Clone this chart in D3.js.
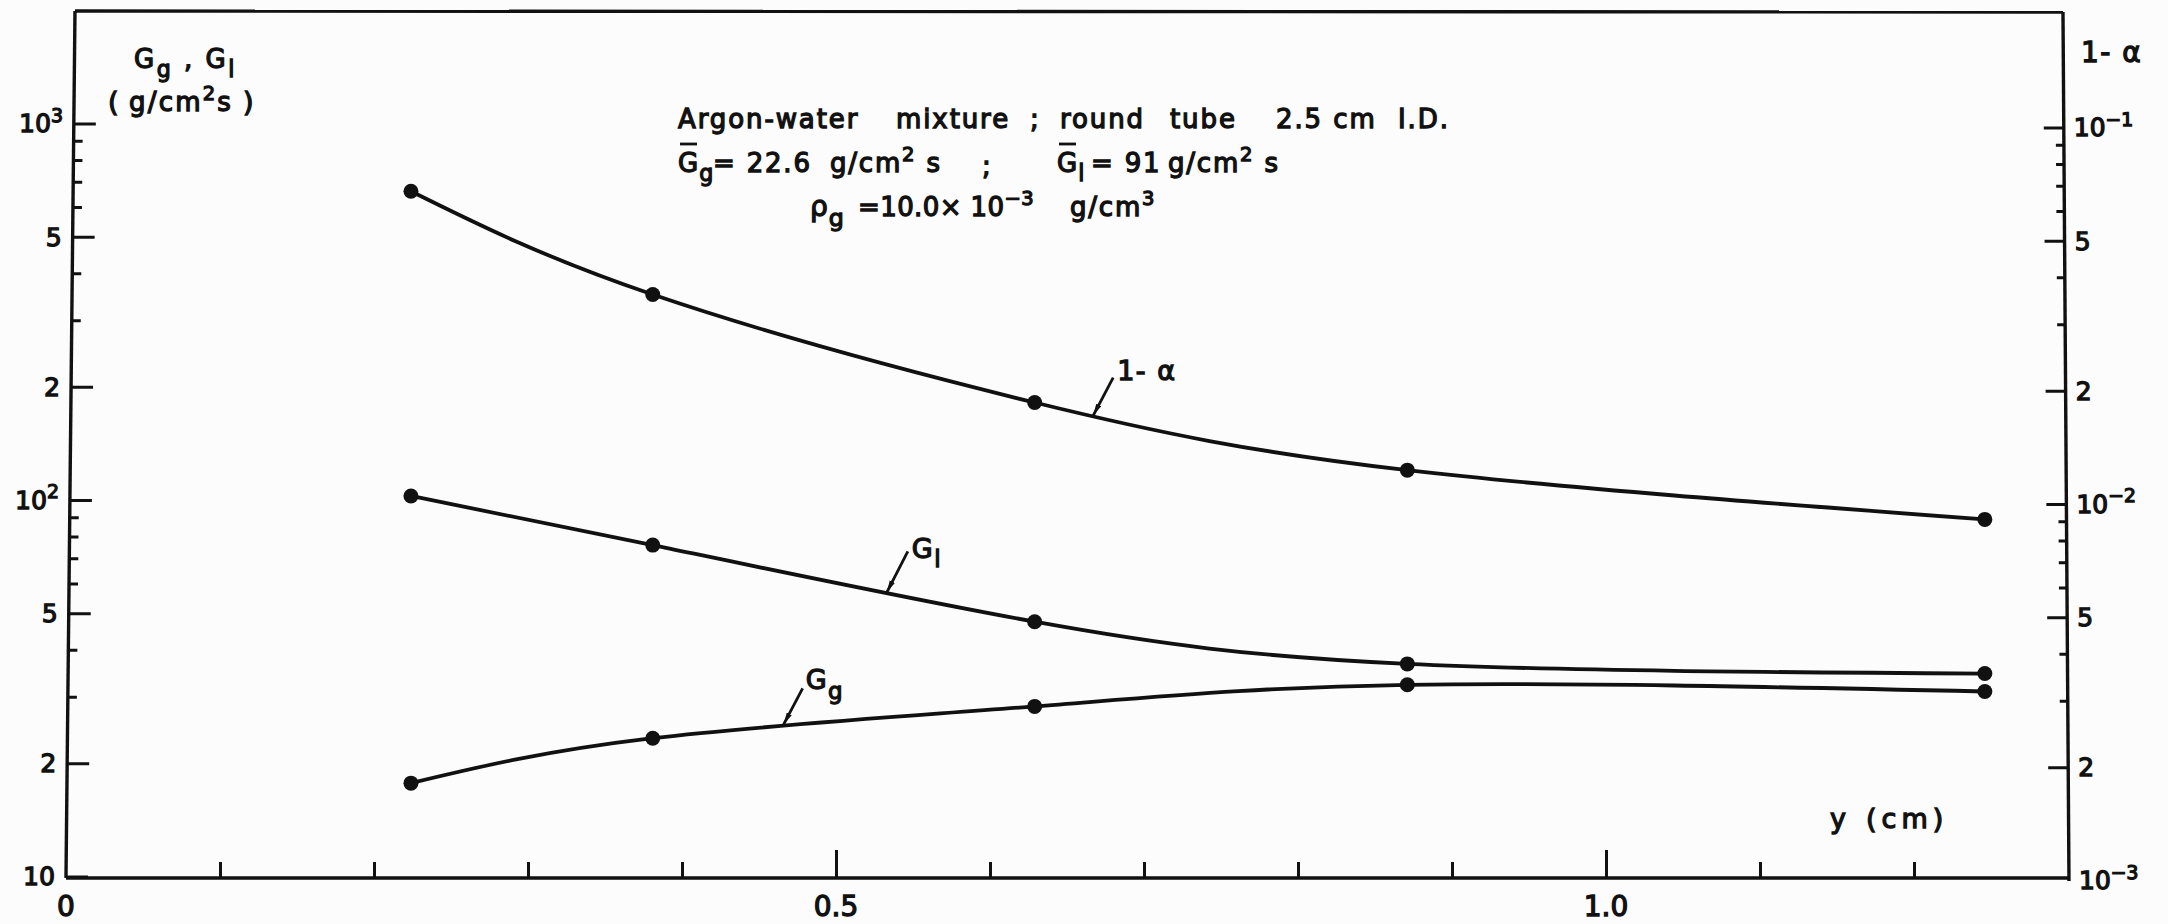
<!DOCTYPE html>
<html>
<head>
<meta charset="utf-8">
<script src="https://cdn.jsdelivr.net/npm/d3@7"></script>
<style>
  html, body { margin: 0; padding: 0; background: #fcfcfc; }
  svg { display: block; }
  text {
    font-family: "DejaVu Sans", "Liberation Sans", sans-serif;
    fill: #111;
    stroke: #111;
    stroke-width: 1.3px;
    paint-order: stroke;
  }
</style>
</head>
<body>
<svg id="chart" width="2168" height="924"></svg>
<script>
// Distance from the tube wall, y (cm)
const yPos = [0.224, 0.381, 0.629, 0.871, 1.246];
// 1 - alpha (right-hand scale)
const oneMinusAlpha = [0.0677, 0.0360, 0.0186, 0.0123, 0.0091];
// Liquid mass flux G_l (g/cm2 s)
const liquidFlux = [102.5, 75.9, 47.5, 36.7, 34.6];
// Gas mass flux G_g (g/cm2 s)
const gasFlux = [17.7, 23.3, 28.3, 32.3, 31.0];

// Axis ticks and their labels ([base, superscript])
const xMinorTicks = [0.1, 0.2, 0.3, 0.4, 0.6, 0.7, 0.8, 0.9, 1.1, 1.2];
const xMajorTicks = [0.5, 1.0];
const xTickLabels = [[0, "0"], [0.5, "0.5"], [1.0, "1.0"]];

const leftMajor = [10, 20, 50, 100, 200, 500, 1000];
const leftMinor = [30, 40, 60, 70, 80, 90, 300, 400, 600, 700, 800, 900];
const leftLabels = [["10", ""], ["2", ""], ["5", ""], ["10", "2"], ["2", ""], ["5", ""], ["10", "3"]];

const rightMajor = [0.001, 0.002, 0.005, 0.01, 0.02, 0.05, 0.1];
const rightMinor = [0.003, 0.004, 0.006, 0.007, 0.008, 0.009, 0.03, 0.04, 0.06, 0.07, 0.08, 0.09];
const rightLabels = [["10", "\u22123"], ["2", ""], ["5", ""], ["10", "\u22122"], ["2", ""], ["5", ""], ["10", "\u22121"]];

const svg = d3.select("#chart");

const x = d3.scaleLinear().domain([0, 1.3]).range([66, 2068]);
const yL = d3.scaleLog().domain([10, 1000]).range([876.5, 123.5]);
const yR = d3.scaleLog().domain([1e-3, 1e-1]).range([880.5, 127.5]);

const AXIS_W = 3.4, TICK_W = 3;

// Writes plain / subscript / superscript runs into a text element
function rich(sel, parts, size) {
  let shift = 0;
  parts.forEach(p => {
    const target = p.sub ? size * 0.34 : p.sup ? -size * 0.42 : 0;
    sel.append("tspan")
      .attr("dy", target - shift)
      .attr("font-size", p.sub ? size * 0.85 : p.sup ? size * 0.75 : size)
      .text(p.t);
    shift = target;
  });
  return sel;
}

function label(g, px, py, parts, size, anchor, spacing) {
  const t = g.append("text")
    .attr("x", px).attr("y", py)
    .attr("font-size", size)
    .attr("text-anchor", anchor || "start")
    .attr("letter-spacing", spacing || 0);
  return rich(t, parts, size);
}

function styleTicks(g, w) {
  g.select(".domain").remove();
  g.selectAll(".tick line").attr("stroke", "#111").attr("stroke-width", w);
}

// ---- left axis (G_g, G_l) ----
const gL = svg.append("g").attr("transform", "translate(75.1,0) skewX(-0.595)");
gL.append("line").attr("x1", 0).attr("x2", 0).attr("y1", 11).attr("y2", 878)
  .attr("stroke", "#111").attr("stroke-width", AXIS_W);
gL.append("g").call(d3.axisLeft(yL).tickValues(leftMajor).tickSize(-22).tickFormat(() => ""))
  .call(g => styleTicks(g, TICK_W));
gL.append("g").call(d3.axisLeft(yL).tickValues(leftMinor).tickSize(-9).tickFormat(() => ""))
  .call(g => styleTicks(g, TICK_W));
leftMajor.forEach((v, i) => {
  const [base, sup] = leftLabels[i];
  const parts = [{ t: base }];
  if (sup) parts.push({ t: sup, sup: true });
  label(gL, -11, yL(v) + 9, parts, 25, "end");
});

// ---- right axis (1 - alpha) ----
const gR = svg.append("g").attr("transform", "translate(2062.9,0) skewX(0.396)");
gR.append("line").attr("x1", 0).attr("x2", 0).attr("y1", 12).attr("y2", 881)
  .attr("stroke", "#111").attr("stroke-width", AXIS_W);
gR.append("g").call(d3.axisRight(yR).tickValues(rightMajor.slice(1)).tickSize(-20).tickFormat(() => ""))
  .call(g => styleTicks(g, TICK_W));
gR.append("g").call(d3.axisRight(yR).tickValues(rightMinor).tickSize(-8).tickFormat(() => ""))
  .call(g => styleTicks(g, TICK_W));
rightMajor.forEach((v, i) => {
  const [base, sup] = rightLabels[i];
  const parts = [{ t: base }];
  if (sup) parts.push({ t: sup, sup: true });
  label(gR, 10, yR(v) + 9, parts, 25, "start");
});

// ---- top frame line ----
svg.append("line").attr("x1", 75).attr("y1", 11).attr("x2", 2063).attr("y2", 12)
  .attr("stroke", "#111").attr("stroke-width", AXIS_W);

// ---- bottom axis y (cm) ----
const gX = svg.append("g").attr("transform", "translate(0,878)");
gX.append("line").attr("x1", x(0)).attr("x2", x(1.3) + 1).attr("y1", 0).attr("y2", 0)
  .attr("stroke", "#111").attr("stroke-width", AXIS_W);
gX.append("g").call(d3.axisBottom(x).tickValues(xMinorTicks).tickSize(-16).tickFormat(() => ""))
  .call(g => styleTicks(g, TICK_W));
gX.append("g").call(d3.axisBottom(x).tickValues(xMajorTicks).tickSize(-28).tickFormat(() => ""))
  .call(g => styleTicks(g, TICK_W));
xTickLabels.forEach(([v, s]) => label(gX, x(v), 38, [{ t: s }], 28, "middle"));

// ---- axis titles ----
label(svg, 134, 68, [{ t: "G" }, { t: "g", sub: true }, { t: " , G" }, { t: "l", sub: true }], 26, "start", 2.5);
label(svg, 108, 111, [{ t: "(" }], 27, "start");
label(svg, 129, 111, [{ t: "g/cm" }, { t: "2", sup: true }, { t: "s" }], 26, "start", 2.2);
label(svg, 243, 111, [{ t: ")" }], 27, "start");
label(svg, 2081, 62, [{ t: "1- \u03b1" }], 28, "start", 1.5);
label(svg, 1830, 828, [{ t: "y" }], 27, "start");
label(svg, 1866, 828, [{ t: "(cm)" }], 27, "start", 5);

// ---- heading block ----
const heading = svg.append("g");
const HS = 26;
[[678, "Argon-water"], [896, "mixture"], [1030, ";"], [1060, "round"], [1170, "tube"],
 [1276, "2.5 cm"], [1398, "I.D."]].forEach(([px, s]) => label(heading, px, 128, [{ t: s }], HS, "start", 1.9));

label(heading, 678, 172, [{ t: "G" }, { t: "g", sub: true }], HS, "start", 1);
label(heading, 713, 172, [{ t: "= 22.6" }], HS, "start", 1.8);
label(heading, 830, 172, [{ t: "g/cm" }, { t: "2", sup: true }, { t: " s" }], HS, "start", 1.8);
label(heading, 982, 175, [{ t: ";" }], HS, "start");
label(heading, 1057, 172, [{ t: "G" }, { t: "l", sub: true }], HS, "start", 1);
label(heading, 1091, 172, [{ t: "= 91" }], HS, "start", 1.8);
label(heading, 1168, 172, [{ t: "g/cm" }, { t: "2", sup: true }, { t: "  s" }], HS, "start", 1.8);
// overbars on the mean fluxes
[[680, 697], [1059, 1076]].forEach(([a, b]) =>
  heading.append("line").attr("x1", a).attr("x2", b).attr("y1", 144).attr("y2", 144)
    .attr("stroke", "#111").attr("stroke-width", 2.8));

label(heading, 810, 216, [{ t: "\u03c1" }, { t: "g", sub: true }], HS + 2, "start", 1);
label(heading, 858, 216, [{ t: "=10.0\u00d7 10" }, { t: "\u22123", sup: true }], HS, "start", 0.4);
label(heading, 1070, 216, [{ t: "g/cm" }, { t: "3", sup: true }], HS, "start", 1.8);

// ---- curves and measured points ----
const series = [
  { key: "alpha", values: oneMinusAlpha, y: yR },
  { key: "liquid", values: liquidFlux, y: yL },
  { key: "gas", values: gasFlux, y: yL }
];

const paths = {};
series.forEach(s => {
  const pts = yPos.map((p, i) => [x(p), s.y(s.values[i])]);
  const line = d3.line().curve(d3.curveNatural);
  paths[s.key] = svg.append("path")
    .attr("d", line(pts))
    .attr("fill", "none")
    .attr("stroke", "#111")
    .attr("stroke-width", 3.8)
    .attr("stroke-linecap", "round")
    .node();
  svg.append("g").selectAll("circle").data(pts).join("circle")
    .attr("cx", d => d[0]).attr("cy", d => d[1]).attr("r", 7.5)
    .attr("fill", "#111");
});

// ---- curve labels with leader arrows ----
svg.append("defs").append("marker")
  .attr("id", "tip").attr("markerUnits", "userSpaceOnUse")
  .attr("viewBox", "0 -3 12 6").attr("refX", 12).attr("refY", 0)
  .attr("markerWidth", 12).attr("markerHeight", 6).attr("orient", "auto")
  .append("path").attr("d", "M0,-2.8L12,0L0,2.8Z").attr("fill", "#111");

function pointAtX(node, px) {
  let lo = 0, hi = node.getTotalLength();
  for (let i = 0; i < 40; i++) {
    const mid = (lo + hi) / 2;
    if (node.getPointAtLength(mid).x < px) lo = mid; else hi = mid;
  }
  return node.getPointAtLength((lo + hi) / 2);
}

const curveLabels = [
  { key: "alpha", at: 0.667, parts: [{ t: "1- \u03b1" }], lead: [20, -39], text: [4, 2] },
  { key: "liquid", at: 0.533, parts: [{ t: "G" }, { t: "l", sub: true }], lead: [21, -42], text: [4, 7] },
  { key: "gas", at: 0.466, parts: [{ t: "G" }, { t: "g", sub: true }], lead: [19, -37], text: [3, 1] }
];
curveLabels.forEach(c => {
  const p = pointAtX(paths[c.key], x(c.at));
  const sx = p.x + c.lead[0], sy = p.y + c.lead[1];
  svg.append("line").attr("x1", sx).attr("y1", sy).attr("x2", p.x).attr("y2", p.y - 1)
    .attr("stroke", "#111").attr("stroke-width", 2.8).attr("marker-end", "url(#tip)");
  label(svg, sx + c.text[0], sy + c.text[1], c.parts, 27, "start", 1.5);
});
</script>
</body>
</html>
